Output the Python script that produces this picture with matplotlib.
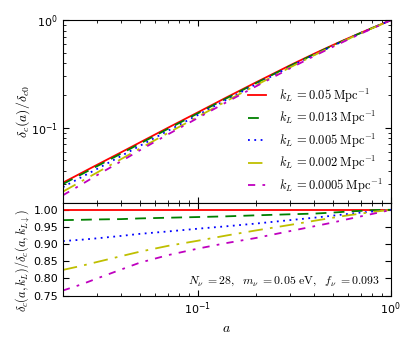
import matplotlib
matplotlib.use('Agg')
import matplotlib.pyplot as plt
import numpy as np

plt.rcParams['mathtext.fontset'] = 'cm'
plt.rcParams['xtick.direction'] = 'in'
plt.rcParams['ytick.direction'] = 'in'
plt.rcParams['xtick.top'] = True
plt.rcParams['ytick.right'] = True

# scale factor grid
a = [0.02, 0.025, 0.03, 0.04, 0.05, 0.07, 0.1, 0.14, 0.2, 0.3, 0.4, 0.5, 0.6, 0.7, 0.8, 0.9, 1.0]

# top panel: delta_c(a)/delta_c0
d_005 = [0.0309, 0.0381, 0.0452, 0.0591, 0.0729, 0.1000, 0.139, 0.1905, 0.264, 0.380, 0.487, 0.586, 0.678, 0.764, 0.845, 0.922, 1.0]
d_0013 = [0.0300, 0.0370, 0.0439, 0.0575, 0.0711, 0.0977, 0.1361, 0.1869, 0.2598, 0.3751, 0.4816, 0.5813, 0.6746, 0.7617, 0.8442, 0.922, 1.0]
d_0005 = [0.0281, 0.0348, 0.0414, 0.0546, 0.0678, 0.0937, 0.1314, 0.1814, 0.2534, 0.3686, 0.4758, 0.5760, 0.6699, 0.7579, 0.8408, 0.9202, 1.0]
d_0002 = [0.0255, 0.0319, 0.0383, 0.0511, 0.0640, 0.0895, 0.1265, 0.1762, 0.2482, 0.3633, 0.4714, 0.5725, 0.6672, 0.7556, 0.8399, 0.9192, 1.0]
d_00005 = [0.0236, 0.0298, 0.0362, 0.0488, 0.0617, 0.0868, 0.1233, 0.1720, 0.2424, 0.3564, 0.4636, 0.5643, 0.6597, 0.7495, 0.8349, 0.9165, 1.0]

# bottom panel: ratio to the k_L = 0.05 curve
r_005 = [1.0] * 17
r_0013 = [0.970, 0.971, 0.972, 0.973, 0.975, 0.977, 0.979, 0.981, 0.984, 0.987, 0.989, 0.992, 0.995, 0.997, 0.999, 1.0, 1.0]
r_0005 = [0.909, 0.913, 0.917, 0.924, 0.930, 0.937, 0.945, 0.952, 0.960, 0.970, 0.977, 0.983, 0.988, 0.992, 0.995, 0.998, 1.0]
r_0002 = [0.825, 0.837, 0.848, 0.865, 0.878, 0.895, 0.910, 0.925, 0.940, 0.956, 0.968, 0.977, 0.984, 0.989, 0.994, 0.997, 1.0]
r_00005 = [0.765, 0.783, 0.800, 0.826, 0.846, 0.868, 0.887, 0.903, 0.918, 0.938, 0.952, 0.963, 0.973, 0.981, 0.988, 0.994, 1.0]

kL_labels = ['0.05', '0.013', '0.005', '0.002', '0.0005']
top_curves = [d_005, d_0013, d_0005, d_0002, d_00005]
bot_curves = [r_005, r_0013, r_0005, r_0002, r_00005]
styles = [dict(color='r', ls='-'),
          dict(color='g', ls=(0, (6, 4))),
          dict(color='b', ls=(0, (1, 2.5))),
          dict(color='y', ls=(0, (8, 4, 1.5, 4))),
          dict(color='m', ls=(0, (4, 4, 1.5, 4)))]

fig = plt.figure(figsize=(4.14, 3.45), dpi=100)
ax1 = fig.add_axes([0.152, 0.4116, 0.792, 0.530])
ax2 = fig.add_axes([0.152, 0.143, 0.792, 0.2687])

for lab, yv, st in zip(kL_labels, top_curves, styles):
    ax1.plot(a, yv, lw=1.3, label=r'$k_L\,{=}%s\;\mathrm{Mpc}^{-1}$' % lab, **st)
for yv, st in zip(bot_curves, styles):
    ax2.plot(a, yv, lw=1.3, **st)

ax1.set_xscale('log')
ax1.set_yscale('log')
ax1.set_xlim(0.02, 1)
ax1.set_ylim(0.02, 1)
ax1.tick_params(axis='x', which='both', labelbottom=False)
ax1.set_ylabel(r'$\delta_c(a)/\delta_{c0}$', fontsize=10)
ax1.yaxis.set_label_coords(-0.095, 0.5)

ax2.set_xscale('log')
ax2.set_xlim(0.02, 1)
ax2.set_ylim(0.75, 1.02)
ax2.set_yticks([0.75, 0.80, 0.85, 0.90, 0.95, 1.00])
ax2.set_xlabel(r'$a$', fontsize=10, labelpad=3)
ax2.set_ylabel(r'$\delta_c(a,k_L)/\delta_c(a,k_{L\downarrow})$', fontsize=8.8)
ax2.yaxis.set_label_coords(-0.095, 0.38)

for ax in (ax1, ax2):
    ax.tick_params(which='major', length=4, labelsize=8)
    ax.tick_params(which='minor', length=2)

ax1.legend(loc='lower right', bbox_to_anchor=(1.0, 0.0), frameon=False, fontsize=9,
           handlelength=1.5, handletextpad=1.0, labelspacing=0.36, borderaxespad=0.25)

ax2.text(0.966, 0.16, r'$N_\nu\;{=}28,\ \ m_\nu\;{=}0.05\ \mathrm{eV},\ \ f_\nu\;{=}0.093$',
         transform=ax2.transAxes, ha='right', va='center', fontsize=8.5)

fig.savefig('out.png', dpi=100)
